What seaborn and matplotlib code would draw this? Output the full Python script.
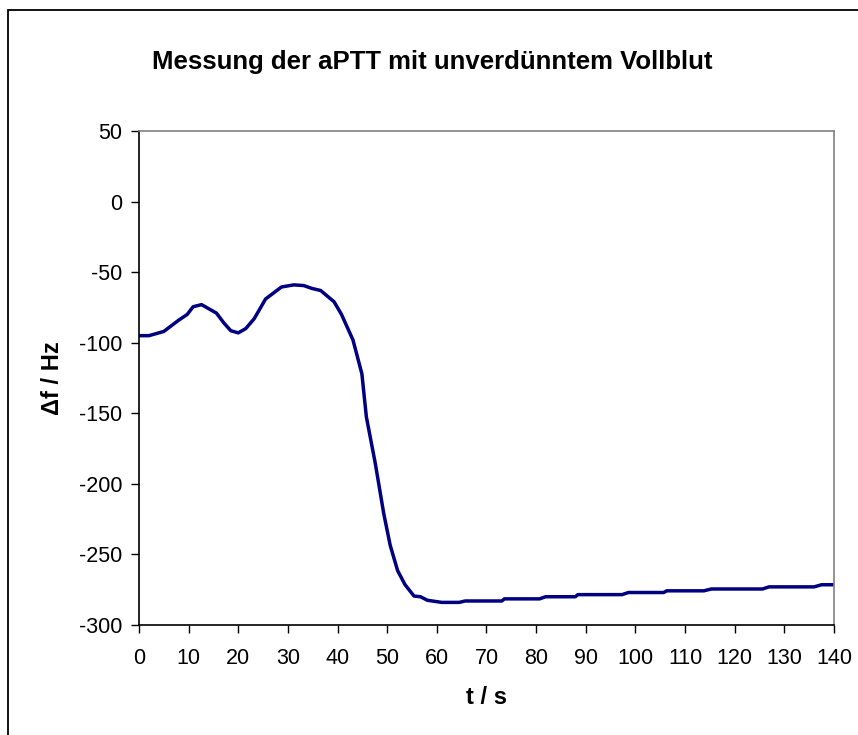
import pandas as pd
import matplotlib
matplotlib.use("Agg")
import matplotlib.pyplot as plt
import seaborn as sns
from matplotlib.patches import Rectangle

# Data
time_s = [0, 2, 5, 8, 9.7, 10.9, 12.6, 15.6, 17.1, 18.5, 20, 21.5, 23.2, 25.5,
          28.7, 31.2, 33.2, 34.8, 36.6, 39.3, 40.8, 43.1, 44.9, 45.8, 47.6, 49.3,
          50.6, 52.1, 53.6, 55.4, 56.7, 58.1, 61, 64.5, 65.7, 73.1, 73.6, 80.7,
          81.9, 87.9, 88.4, 97.3, 98.6, 105.7, 106.3, 113.8, 115.3, 125.6, 126.9,
          136, 137.5, 140]
delta_f = [-95, -95, -92, -84, -80, -74.5, -73, -79, -86, -91.5, -93, -90, -83, -69,
           -60.5, -59, -59.5, -61.5, -63, -71, -80, -98, -122, -152.5, -185.5, -221,
           -243.5, -261.5, -271.5, -279.5, -280, -282.5, -284, -284, -283, -283, -281.5, -281.5,
           -280, -280, -278.5, -278.5, -277, -277, -275.8, -275.8, -274.5, -274.5, -273,
           -273, -271.5, -271.5]
x_ticks = list(range(0, 141, 10))
y_ticks = list(range(-300, 51, 50))

df = pd.DataFrame({"t": time_s, "df": delta_f})

sns.set_theme(style="white")
plt.rcParams["font.family"] = ["Liberation Sans", "DejaVu Sans"]
plt.rcParams["axes.unicode_minus"] = False
plt.rcParams["text.color"] = "black"
plt.rcParams["axes.labelcolor"] = "black"

fig = plt.figure(figsize=(8.58, 7.35), dpi=100)
ax = fig.add_axes([0.162, 0.1497, 0.81, 0.672])

sns.lineplot(data=df, x="t", y="df", ax=ax, color="#000080", linewidth=2.5, sort=False)

ax.set_xlim(0, 140)
ax.set_ylim(-300, 50)
ax.set_xticks(x_ticks)
ax.set_yticks(y_ticks)
ax.tick_params(axis="both", direction="out", length=5.5, width=1, colors="black",
               labelsize=15.5, bottom=True, left=True)
ax.tick_params(axis="y", pad=6.5)
ax.tick_params(axis="x", pad=11)

for side in ["left", "bottom"]:
    ax.spines[side].set_color("black")
    ax.spines[side].set_linewidth(1.2)
for side in ["top", "right"]:
    ax.spines[side].set_color("#808080")
    ax.spines[side].set_linewidth(1.2)

ax.set_xlabel("t / s", fontsize=17, fontweight="bold", labelpad=12)
ax.set_ylabel("Δf / Hz", fontsize=17, fontweight="bold", labelpad=11)
fig.text(0.504, 0.906, "Messung der aPTT mit unverdünntem Vollblut",
         ha="center", va="baseline", fontsize=18.5, fontweight="bold")

# outer chart border
fig.patches.append(Rectangle((0.009, -0.02), 1.02, 1.006, transform=fig.transFigure,
                             fill=False, edgecolor="black", linewidth=1.3))

fig.savefig("out.png", dpi=100)
